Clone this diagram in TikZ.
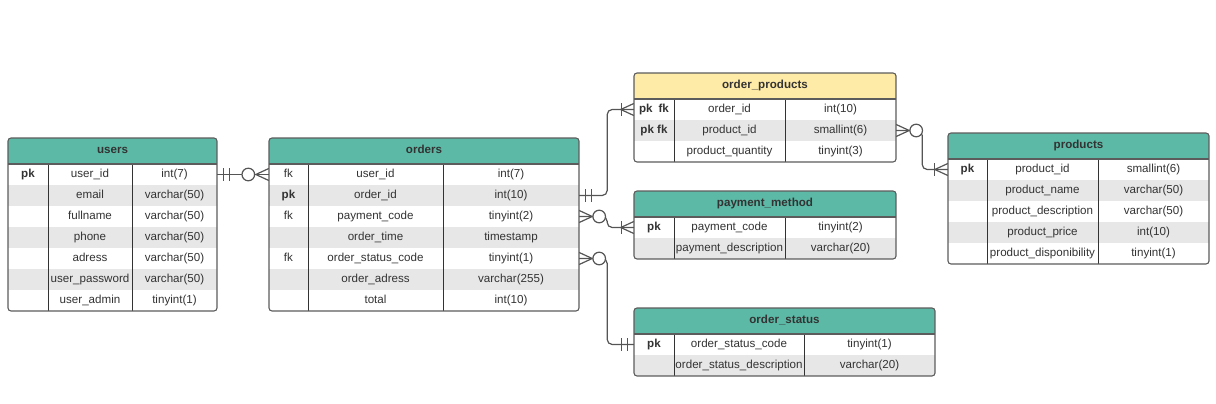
\documentclass[tikz,border=0pt]{standalone}
\usepackage{fontspec}
\setmainfont{Liberation Sans}
\definecolor{hgreen}{HTML}{5CB9A6}
\definecolor{hyellow}{HTML}{FFEBA8}
\definecolor{rowg}{HTML}{E6E7E6}
\definecolor{frm}{HTML}{5C5C5C}
\definecolor{coll}{HTML}{333333}
\definecolor{txt}{HTML}{333333}
\definecolor{relc}{HTML}{555555}
\tikzset{
  cell/.style={inner sep=0pt, minimum height=21pt, text height=8.3pt, text depth=2.4pt,
    font=\fontsize{11.6}{13}\selectfont, text=txt},
  hdr/.style={cell, minimum height=26pt, font=\fontsize{11.6}{13}\selectfont\bfseries},
  frame/.style={draw=frm, line width=1.1pt},
  colline/.style={draw=coll, line width=0.9pt},
  rel/.style={draw=relc, line width=1.2pt},
}
% #1 name, #2 x1, #3 top, #4 x2, #5 div1, #6 div2, #7 rows, #8 title, #9 header colour
\newcommand\erframe[9]{%
  \def\Tn{#1}\def\Tx{#2}\def\Ty{#3}\def\Tw{#4}\def\Ta{#5}\def\Tb{#6}%
  \pgfmathsetmacro\Tbot{#3+26+21*#7}%
  \begin{scope}
    \clip[rounded corners=3pt] (#2,#3) rectangle (#4,\Tbot);
    \fill[white] (#2,#3) rectangle (#4,\Tbot);
    \fill[#9] (#2,#3) rectangle (#4,#3+26);
    \foreach \i in {1,...,#7}{%
      \ifodd\i\else
        \fill[rowg] (#2,#3+26+21*\i-21) rectangle (#4,#3+26+21*\i);
      \fi}
  \end{scope}
  \node[hdr, minimum width={(#4-#2)*1pt}] (#1) at ({(#2+#4)/2},#3+13) {#8};
  \draw[colline] (#5,#3+26) -- (#5,\Tbot);
  \draw[colline] (#6,#3+26) -- (#6,\Tbot);
  \draw[frame] (#2,#3+26) -- (#4,#3+26);
  \draw[frame, rounded corners=3pt] (#2,#3) rectangle (#4,\Tbot);
}
% #1 index, #2 key, #3 field, #4 type
\newcommand\errow[4]{%
  \pgfmathsetmacro\Rc{\Ty+26+21*#1-10.5}%
  \node[cell, minimum width={(\Ta-\Tx)*1pt}] (\Tn-k#1) at ({(\Tx+\Ta)/2},\Rc) {#2};
  \node[cell, minimum width={(\Tb-\Ta)*1pt}] (\Tn-f#1) at ({(\Ta+\Tb)/2},\Rc) {#3};
  \node[cell, minimum width={(\Tw-\Tb)*1pt}] (\Tn-t#1) at ({(\Tb+\Tw)/2},\Rc) {#4};
}
% #1 anchor, #2 sign (+1 apex to the right, -1 apex to the left)
\newcommand\crowfoot[2]{%
  \draw[rel] ([yshift=6pt]#1) -- ([xshift=#2*13pt]#1) -- ([yshift=-6pt]#1);}
\newcommand\ebar[2]{%
  \draw[rel] ([xshift=#2 pt, yshift=6.5pt]#1) -- ([xshift=#2 pt, yshift=-6.5pt]#1);}
\newcommand\ecirc[2]{%
  \draw[rel, fill=white] ([xshift=#2 pt]#1) circle (6.3pt);}
\begin{document}
\begin{tikzpicture}[x=1pt, y=-1pt]
\useasboundingbox (0,0) rectangle (1216,404);
% users
\erframe{users}{8}{138}{217}{48}{132}{7}{users}{hgreen}
\errow{1}{\textbf{pk}}{user\_id}{int(7)}
\errow{2}{}{email}{varchar(50)}
\errow{3}{}{fullname}{varchar(50)}
\errow{4}{}{phone}{varchar(50)}
\errow{5}{}{adress}{varchar(50)}
\errow{6}{}{user\_password}{varchar(50)}
\errow{7}{}{user\_admin}{tinyint(1)}
% orders
\erframe{orders}{269}{138}{579}{308}{443}{7}{orders}{hgreen}
\errow{1}{fk}{user\_id}{int(7)}
\errow{2}{\textbf{pk}}{order\_id}{int(10)}
\errow{3}{fk}{payment\_code}{tinyint(2)}
\errow{4}{}{order\_time}{timestamp}
\errow{5}{fk}{order\_status\_code}{tinyint(1)}
\errow{6}{}{order\_adress}{varchar(255)}
\errow{7}{}{total}{int(10)}
% order_products
\erframe{op}{634}{73}{896}{674}{785}{3}{order\_products}{hyellow}
\errow{1}{\textbf{pk\hspace{6pt}fk}}{order\_id}{int(10)}
\errow{2}{\textbf{pk fk}}{product\_id}{smallint(6)}
\errow{3}{}{product\_quantity}{tinyint(3)}
% payment_method
\erframe{pm}{634}{191}{896}{674}{785}{2}{payment\_method}{hgreen}
\errow{1}{\textbf{pk}}{payment\_code}{tinyint(2)}
\errow{2}{}{payment\_description}{varchar(20)}
% order_status
\erframe{os}{634}{308}{935}{674}{804}{2}{order\_status}{hgreen}
\errow{1}{\textbf{pk}}{order\_status\_code}{tinyint(1)}
\errow{2}{}{order\_status\_description}{varchar(20)}
% products
\erframe{prod}{948}{133}{1209}{987}{1098}{5}{products}{hgreen}
\errow{1}{\textbf{pk}}{product\_id}{smallint(6)}
\errow{2}{}{product\_name}{varchar(50)}
\errow{3}{}{product\_description}{varchar(50)}
\errow{4}{}{product\_price}{int(10)}
\errow{5}{}{product\_disponibility}{tinyint(1)}
% connectors
% users -> orders
\draw[rel] (users-t1.east) -- (orders-k1.west);
\ebar{users-t1.east}{6}\ebar{users-t1.east}{12}
\crowfoot{orders-k1.west}{-1}
\ecirc{orders-k1.west}{-20.5}
% orders -> order_products
\draw[rel, rounded corners=5pt] (orders-t2.east) -- ++(28,0) |- (op-k1.west);
\ebar{orders-t2.east}{6}\ebar{orders-t2.east}{12}
\ebar{op-k1.west}{-12.5}\crowfoot{op-k1.west}{-1}
% orders -> payment_method
\draw[rel, rounded corners=5pt] (orders-t3.east) -- ++(28,0) |- (pm-k1.west);
\crowfoot{orders-t3.east}{1}\ecirc{orders-t3.east}{20}
\ebar{pm-k1.west}{-12.5}\crowfoot{pm-k1.west}{-1}
% orders -> order_status
\draw[rel, rounded corners=5pt] (orders-t5.east) -- ++(28,0) |- (os-k1.west);
\crowfoot{orders-t5.east}{1}\ecirc{orders-t5.east}{20}
\ebar{os-k1.west}{-12.5}\ebar{os-k1.west}{-6}
% order_products -> products
\draw[rel, rounded corners=5pt] (op-t2.east) -- ++(26,0) |- (prod-k1.west);
\crowfoot{op-t2.east}{1}\ecirc{op-t2.east}{20}
\ebar{prod-k1.west}{-13.5}\crowfoot{prod-k1.west}{-1}
\end{tikzpicture}
\end{document}
